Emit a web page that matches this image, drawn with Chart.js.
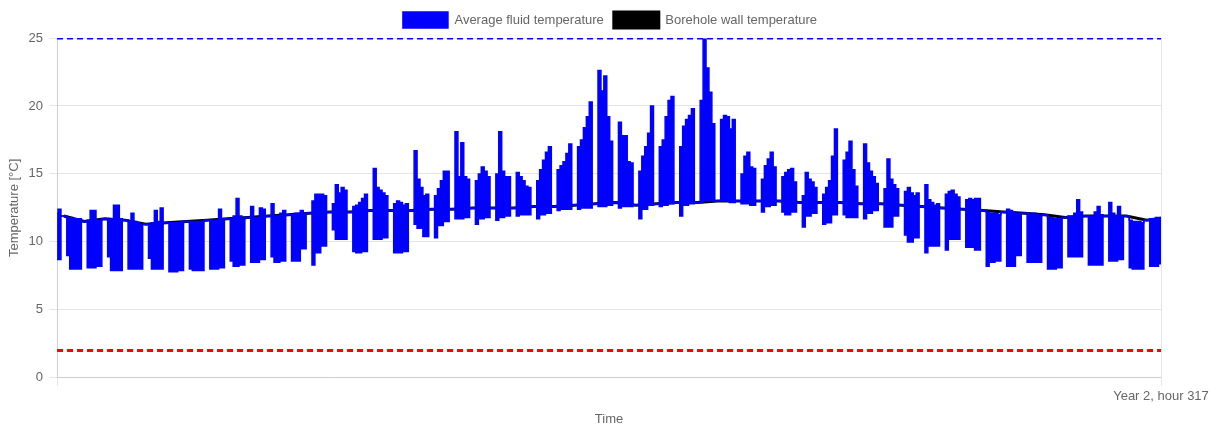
<!DOCTYPE html>
<html>
<head>
<meta charset="utf-8">
<script src="https://cdn.jsdelivr.net/npm/chart.js@4"></script>
<style>
    html, body { margin: 0; padding: 0; background: #fff; }
    #wrap { width: 1220px; height: 425px; }
</style>
</head>
<body>
<div id="wrap"><canvas id="grafico"></canvas></div>
<script>
// one row per week, weekdays Mon..Fri (peak of the day)
const fluidHigh = [
    [12.0, 12.0, 12.0, 12.1, 12.4],
    [11.8, 11.8, 11.7, 11.7, 11.7],
    [11.6, 12.3, 12.3, 11.6, 11.6],
    [11.6, 11.7, 12.7, 12.7, 11.7],
    [11.5, 12.1, 11.5, 11.4, 11.3],
    [11.3, 11.4, 12.3, 11.5, 12.5],
    [11.4, 11.4, 11.4, 11.4, 11.5],
    [11.5, 11.5, 11.5, 11.5, 11.5],
    [11.6, 11.6, 11.6, 12.4, 11.7],
    [11.7, 11.9, 13.2, 11.9, 11.7],
    [12.6, 11.8, 11.8, 12.5, 12.4],
    [12.8, 11.9, 11.9, 12.1, 12.3],
    [12.0, 12.1, 12.1, 12.3, 12.1],
    [13.0, 13.5, 13.5, 13.5, 13.4],
    [12.8, 14.2, 13.6, 14.0, 13.8],
    [12.6, 12.7, 12.9, 13.2, 13.5],
    [15.4, 14.0, 13.8, 13.6, 13.4],
    [12.8, 13.0, 12.9, 12.7, 12.8],
    [16.7, 14.6, 14.0, 13.4, 13.5],
    [13.4, 13.9, 14.5, 15.2, 15.2],
    [18.1, 14.8, 17.3, 14.8, 14.6],
    [14.5, 15.0, 15.5, 15.2, 14.8],
    [15.0, 18.1, 15.2, 14.8, 14.8],
    [15.1, 14.8, 14.5, 14.1, 14.0],
    [14.5, 15.3, 16.0, 16.6, 17.0],
    [15.3, 15.6, 15.9, 16.5, 17.2],
    [17.0, 17.5, 18.4, 19.2, 20.3],
    [22.6, 21.1, 22.2, 19.2, 17.4],
    [18.8, 17.8, 17.8, 15.9, 15.8],
    [15.2, 16.3, 17.0, 18.0, 20.0],
    [17.0, 17.5, 19.2, 20.4, 20.7],
    [17.0, 18.5, 19.0, 19.3, 19.8],
    [20.4, 24.9, 22.8, 21.0, 18.7],
    [19.0, 19.3, 19.2, 18.3, 19.0],
    [15.0, 16.3, 16.6, 15.5, 15.4],
    [14.6, 15.6, 16.1, 16.6, 15.5],
    [14.8, 15.1, 15.3, 15.4, 14.4],
    [13.4, 15.1, 14.6, 14.4, 14.0],
    [13.5, 14.0, 14.5, 16.3, 18.3],
    [16.0, 16.6, 17.4, 15.3, 14.1],
    [17.2, 15.8, 15.2, 14.8, 14.3],
    [13.9, 16.1, 14.6, 14.2, 13.9],
    [13.7, 14.0, 13.6, 13.4, 13.6],
    [14.2, 13.1, 12.9, 12.7, 12.8],
    [13.5, 13.7, 13.8, 13.5, 13.3],
    [13.1, 13.2, 13.1, 13.2, 13.2],
    [12.2, 12.1, 12.1, 12.1, 12.0],
    [12.4, 12.3, 12.2, 12.1, 12.1],
    [12.1, 12.0, 12.1, 12.0, 11.9],
    [11.8, 11.8, 11.7, 11.7, 11.7],
    [11.9, 11.9, 12.1, 13.1, 12.2],
    [11.9, 11.9, 12.2, 12.6, 12.0],
    [12.9, 12.1, 11.9, 12.6, 11.9],
    [11.6, 11.5, 11.5, 11.5, 11.4],
    [11.7, 11.7, 11.8, 11.8, 11.8]
]

// weekday minimum: Mon, Tue-Wed, Thu-Fri
const fluidLow = [
    [9.0, 9.0, 8.7], [9.0, 8.0, 8.0], [8.1, 8.1, 8.2], [8.9, 7.9, 7.9], [8.0, 8.0, 8.0],
    [8.8, 8.0, 8.0], [7.8, 7.8, 7.9], [8.0, 7.9, 7.9], [8.0, 8.0, 8.1], [8.6, 8.2, 8.3],
    [8.5, 8.5, 8.7], [8.9, 8.5, 8.6], [8.6, 8.6, 9.5], [8.3, 9.2, 9.7], [10.9, 10.2, 10.2],
    [9.3, 9.2, 9.3], [10.2, 10.2, 10.3], [9.2, 9.2, 9.3], [11.3, 11.0, 10.4], [10.3, 11.2, 11.5],
    [11.7, 11.7, 11.8], [11.3, 11.7, 11.8], [11.6, 11.8, 11.9], [11.9, 12.0, 12.0], [11.7, 12.0, 12.1],
    [12.3, 12.4, 12.4], [12.4, 12.5, 12.5], [12.6, 12.6, 12.7], [12.5, 12.6, 12.6], [11.7, 12.4, 12.7],
    [12.6, 12.7, 12.8], [11.9, 12.7, 12.8], [12.9, 13.0, 13.0], [13.0, 13.0, 12.9], [12.8, 12.8, 12.7],
    [12.2, 12.6, 12.7], [12.2, 12.0, 12.2], [11.1, 11.9, 12.1], [11.3, 11.4, 12.0], [12.0, 11.8, 11.8],
    [11.7, 12.1, 12.3], [11.1, 11.1, 11.9], [10.5, 10.0, 10.3], [9.2, 9.7, 9.7], [9.4, 10.2, 10.2],
    [9.6, 9.6, 9.4], [8.2, 8.5, 8.6], [8.2, 8.2, 9.0], [8.5, 8.5, 8.5], [8.0, 8.0, 8.1],
    [8.9, 8.9, 8.9], [8.3, 8.3, 8.3], [8.6, 8.6, 8.7], [8.1, 8.0, 8.0], [8.2, 8.2, 8.4]
]

// borehole wall, one value per week (weekend)
const wallTemp = [
    11.9, 11.5, 11.7, 11.6, 11.3, 11.4, 11.5, 11.6, 11.7, 11.8,
    11.9, 12.0, 12.1, 12.2, 12.2, 12.3, 12.3, 12.3, 12.4, 12.4,
    12.5, 12.5, 12.5, 12.6, 12.6, 12.7, 12.8, 12.9, 12.7, 12.8,
    12.9, 12.9, 13.0, 13.0, 13.0, 13.0, 12.9, 12.9, 12.9, 12.8,
    12.8, 12.7, 12.6, 12.5, 12.4, 12.3, 12.2, 12.1, 12.0, 11.8,
    11.9, 11.9, 11.9, 11.6, 11.8
]

const firstMondayHour = -88
const endHour = 9077
const maxFluidTemp = 25
const minFluidTemp = 2

const upperPoints = []
const lowerPoints = []
const wallPoints = []
const lowOffsets = [0, 24, 72]

fluidHigh.forEach((semana, k) => {
    const monday = firstMondayHour + k * 168
    semana.forEach((v, d) => upperPoints.push({ x: monday + d * 24, y: v }))
    upperPoints.push({ x: monday + 120, y: wallTemp[k] })
    fluidLow[k].forEach((v, i) => lowerPoints.push({ x: monday + lowOffsets[i], y: v }))
    lowerPoints.push({ x: monday + 120, y: wallTemp[k] })
    wallPoints.push({ x: monday + 144, y: wallTemp[k] })
})

function limitLine(valor) {
    return [{ x: 0, y: valor }, { x: endHour, y: valor }]
}

// legenda centrada na largura toda do canvas
const centrarLegenda = {
    id: 'centrarLegenda',
    beforeDraw(chart) {
        chart.legend.left = 0
        chart.legend.right = chart.width
    }
}

Chart.defaults.font.family = "'Helvetica Neue', Helvetica, Arial, sans-serif"
Chart.defaults.font.size = 13
Chart.defaults.color = '#666'

const ctx = document.getElementById('grafico').getContext('2d')
new Chart(ctx, {
    type: 'line',
    data: {
        datasets: [{
            label: 'Average fluid temperature',
            data: upperPoints,
            borderColor: '#0000ff',
            backgroundColor: '#0000ff',
            borderWidth: 1.5,
            pointRadius: 0,
            stepped: true,
            fill: '+1'
        }, {
            data: lowerPoints,
            borderColor: '#0000ff',
            borderWidth: 1.5,
            pointRadius: 0,
            stepped: true,
            fill: false
        }, {
            label: 'Borehole wall temperature',
            data: wallPoints,
            borderColor: '#000000',
            backgroundColor: '#000000',
            borderWidth: 3,
            pointRadius: 0,
            fill: false
        }, {
            data: limitLine(maxFluidTemp),
            borderColor: '#0000ff',
            borderWidth: 3,
            borderDash: [6, 4],
            pointRadius: 0,
            fill: false
        }, {
            data: limitLine(minFluidTemp),
            borderColor: '#ff0000',
            borderWidth: 3,
            borderDash: [6, 4],
            pointRadius: 0,
            fill: false
        }]
    },
    plugins: [centrarLegenda],
    options: {
        responsive: true,
        maintainAspectRatio: false,
        animation: false,
        layout: { padding: { top: 2, left: 4, right: 59, bottom: 0 } },
        plugins: {
            legend: {
                labels: {
                    boxWidth: 45,
                    boxHeight: 16,
                    filter: item => !!item.text
                }
            },
            tooltip: { enabled: false }
        },
        scales: {
            x: {
                type: 'linear',
                min: 0,
                max: endHour,
                afterBuildTicks: axis => {
                    axis.ticks = [{ value: 0 }, { value: endHour }]
                },
                ticks: {
                    autoSkip: false,
                    maxRotation: 0,
                    padding: 3,
                    callback: v => v === endHour ? `Year ${Math.floor(v / 8760) + 1}, hour ${v % 8760}` : ''
                },
                grid: { color: 'rgba(0,0,0,0.1)' },
                border: { color: 'rgba(0,0,0,0.1)' },
                title: { display: true, text: 'Time', padding: { top: 4, bottom: -2 } }
            },
            y: {
                min: 0,
                max: 25,
                ticks: { stepSize: 5, padding: 6 },
                grid: { color: 'rgba(0,0,0,0.1)' },
                border: { color: 'rgba(0,0,0,0.1)' },
                title: { display: true, text: 'Temperature [°C]', padding: { top: 3, bottom: 0 } }
            }
        }
    }
})
</script>
</body>
</html>
